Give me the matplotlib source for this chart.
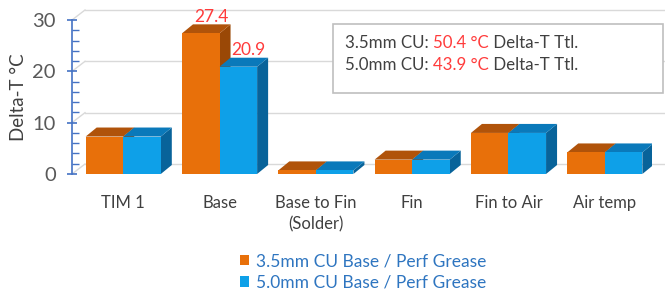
import matplotlib
matplotlib.use("Agg")
import matplotlib.pyplot as plt
from matplotlib.patches import Polygon, Rectangle
from matplotlib import transforms
from matplotlib.ticker import MultipleLocator

plt.rcParams['font.family'] = ['Lato', 'DejaVu Sans']

categories = ["TIM 1", "Base", "Base to Fin\n(Solder)", "Fin", "Fin to Air", "Air temp"]
series_names = ["3.5mm CU Base / Perf Grease", "5.0mm CU Base / Perf Grease"]
vals_35 = [7.3, 27.4, 0.7, 2.8, 8.0, 4.2]
vals_50 = [7.3, 20.9, 0.7, 2.8, 8.0, 4.2]
labelled = {(1, 0): "27.4", (1, 1): "20.9"}
totals = ["50.4", "43.9"]
total_prefix = ["3.5mm CU: ", "5.0mm CU: "]

front = ["#E8700A", "#0EA0E8"]
top = ["#B0530A", "#0A79BA"]
side = ["#9A4806", "#08639A"]

W, H = 665, 295
fig = plt.figure(figsize=(W / 100, H / 100), dpi=100)
ax = fig.add_axes([72 / W, (H - 174) / H, 580 / W, 154 / H])
ax.set_xlim(-0.532, 5.49)
ax.set_ylim(0, 30)
for s in ax.spines.values():
    s.set_visible(False)
ax.spines['left'].set_visible(True)
ax.spines['left'].set_color("#4472C4")
ax.spines['left'].set_linewidth(1.2)
ax.yaxis.set_major_locator(MultipleLocator(10))
ax.yaxis.set_minor_locator(MultipleLocator(2))
ax.tick_params(axis='y', which='major', direction='inout', length=7.5, width=1.2,
               color="#4472C4", labelsize=14.5, labelcolor="#595959", pad=8)
ax.tick_params(axis='y', which='minor', direction='in', length=5, width=1.0, color="#4472C4")
ax.set_xticks(range(len(categories)))
ax.set_xticklabels(categories, fontsize=12, color="#404040", linespacing=1.4)
ax.tick_params(axis='x', length=0, pad=15)
ax.set_ylabel("Delta-T °C", fontsize=13.5, color="#404040", labelpad=4)

# pixel -> data conversion
pxx = 580 / (5.49 + 0.532)
pxy = 154 / 30
bdx, bdy = 11 / pxx, 9 / pxy

# back wall gridlines
wall = transforms.offset_copy(ax.transData, fig=fig, x=13, y=10, units='dots')
x0, x1 = ax.get_xlim()
for v in range(0, 31, 10):
    ax.plot([x0, x1 + 0.2], [v, v], color="#D9D9D9", lw=1, transform=wall, clip_on=False, zorder=0)
    ax.plot([x0, x0 + 13 / pxx], [v, v + 10 / pxy], color="#D9D9D9", lw=1, clip_on=False, zorder=0)

bw = 0.39
series = [vals_35, vals_50]
z = 2
for i in range(len(categories)):
    for k, vals in enumerate(series):
        h = vals[i]
        xl = i - bw + k * bw
        xr = xl + bw
        ax.add_patch(Polygon([(xr, 0), (xr + bdx, bdy), (xr + bdx, h + bdy), (xr, h)],
                             closed=True, facecolor=side[k], edgecolor='none', zorder=z))
        ax.add_patch(Polygon([(xl, h), (xr, h), (xr + bdx, h + bdy), (xl + bdx, h + bdy)],
                             closed=True, facecolor=top[k], edgecolor='none', zorder=z))
        ax.bar(xl, h, width=bw, align='edge', color=front[k], zorder=z, clip_on=False)
        z += 1
        if (i, k) in labelled:
            ax.annotate(labelled[(i, k)], (xl + bw / 2, h), xytext=(7.5, 12),
                        textcoords='offset points', ha='center', va='center',
                        fontsize=12.5, color="#FF3B3B", zorder=20)

# totals box
ax.add_patch(Rectangle((333 / W, 1 - 93 / H), 330 / W, 69 / H, transform=fig.transFigure,
                       facecolor='white', edgecolor="#BFBFBF", lw=1.2, zorder=30, clip_on=False))
for j in range(2):
    y = 1 - (43 + 22 * j) / H
    t1 = ax.text(345 / W, y, total_prefix[j], fontsize=12.2, color="#404040", va='center',
                 transform=fig.transFigure, zorder=31)
    a1 = ax.annotate(totals[j] + " °C", xy=(1, 0), xycoords=t1, va='bottom', ha='left',
                     fontsize=12.2, color="#FF3B3B", zorder=31, annotation_clip=False)
    ax.annotate(" Delta-T Ttl.", xy=(1, 0), xycoords=a1, va='bottom', ha='left',
                fontsize=12.2, color="#404040", zorder=31, annotation_clip=False)

handles = [Rectangle((0, 0), 1, 1, facecolor=front[k]) for k in range(2)]
fig.legend(handles, series_names, loc='center', bbox_to_anchor=(363 / W, 1 - 272 / H),
           frameon=False, fontsize=12.5, labelcolor="#2E75C0", handlelength=0.55, handleheight=0.55,
           handletextpad=0.4, labelspacing=0.3, borderpad=0)

fig.savefig("out.png", dpi=100)
